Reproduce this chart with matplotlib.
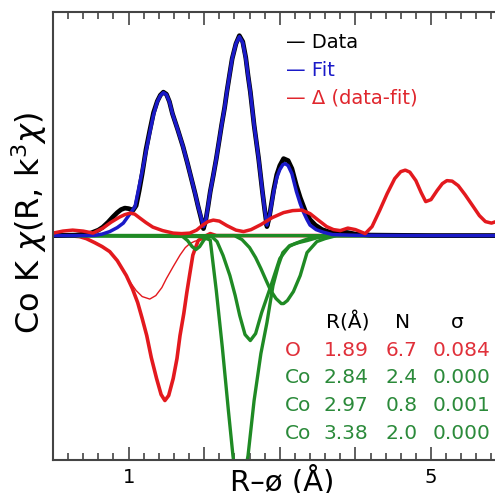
import matplotlib
matplotlib.use("Agg")
import matplotlib.pyplot as plt
from matplotlib.ticker import MultipleLocator

# ---- data (R in Angstrom, signal in arbitrary units) ----
data_r = [0, 0.3, 0.5, 0.6, 0.66, 0.73, 0.79, 0.85, 0.9, 0.95, 1.0, 1.06, 1.1, 1.14,
          1.18, 1.23, 1.28, 1.33, 1.38, 1.42, 1.46, 1.50, 1.54, 1.58, 1.65, 1.72,
          1.78, 1.835, 1.88, 1.92, 1.96, 1.99, 2.02, 2.05, 2.08, 2.12, 2.16, 2.2,
          2.23, 2.27, 2.30, 2.34, 2.37, 2.42, 2.465, 2.51, 2.55, 2.58, 2.61, 2.66,
          2.72, 2.77, 2.80, 2.83, 2.86, 2.89, 2.92, 2.96, 3.0, 3.05, 3.11, 3.16,
          3.22, 3.27, 3.34, 3.40, 3.47, 3.56, 3.66, 3.8, 3.9, 4.0, 4.2, 5.0, 6.0]
data_y = [0, 0.05, 0.25, 0.55, 0.85, 1.35, 1.85, 2.3, 2.6, 2.75, 2.7, 2.55, 3.0, 4.5,
          6.2, 8.6, 10.5, 12.3, 13.45, 14.05, 14.35, 14.15, 13.4, 12.2, 10.6, 8.9,
          7.2, 5.55, 4.2, 2.9, 1.7, 0.7, 1.5, 2.9, 4.4, 6.0, 7.7, 9.6,
          11.05, 12.8, 14.4, 16.3, 17.7, 19.2, 20.0, 19.4, 17.8, 16.0, 14.4, 11.05,
          7.7, 4.4, 2.6, 0.9, 1.8, 3.2, 4.6, 6.1, 7.0, 7.7, 7.5, 6.7,
          5.0, 3.8, 2.4, 1.6, 1.05, 0.6, 0.35, 0.4, 0.3, 0.15, 0.05, 0, 0]

fit_r = [0, 0.3, 0.55, 0.65, 0.75, 0.85, 0.93, 1.02, 1.085, 1.12, 1.16, 1.2, 1.23,
         1.28, 1.33, 1.38, 1.42, 1.46, 1.50, 1.54, 1.58, 1.65, 1.72, 1.78, 1.835,
         1.88, 1.92, 1.96, 1.99, 2.02, 2.05, 2.08, 2.12, 2.16, 2.2, 2.23, 2.27,
         2.30, 2.34, 2.37, 2.42, 2.465, 2.51, 2.55, 2.58, 2.61, 2.66, 2.72, 2.77,
         2.80, 2.83, 2.86, 2.89, 2.92, 2.96, 3.0, 3.04, 3.07, 3.11, 3.16, 3.22,
         3.27, 3.31, 3.36, 3.40, 3.48, 3.57, 3.7, 4.0, 5.0, 6.0]
fit_y = [0, 0, 0.02, 0.15, 0.4, 0.8, 1.25, 2.2, 2.9, 4.2, 5.7, 7.2, 8.4,
         10.3, 12.1, 13.4, 14.0, 14.3, 14.1, 13.4, 12.2, 10.6, 8.9, 7.2, 5.55,
         4.2, 2.9, 1.8, 0.9, 1.5, 2.9, 4.4, 6.0, 7.7, 9.6, 11.05, 12.8,
         14.4, 16.3, 17.7, 19.2, 19.9, 19.3, 17.7, 16.0, 14.4, 11.05, 7.7, 4.4,
         2.6, 1.05, 1.8, 3.1, 4.4, 5.8, 6.6, 7.1, 7.2, 7.0, 6.2, 4.4,
         3.2, 2.4, 1.6, 1.05, 0.6, 0.35, 0.1, 0.03, 0, 0]

diff_r = [0, 0.13, 0.26, 0.4, 0.53, 0.66, 0.77, 0.88, 0.95, 1.02, 1.08, 1.15, 1.23,
          1.32, 1.45, 1.59, 1.7, 1.81, 1.9, 1.98, 2.05, 2.12, 2.2, 2.3, 2.42, 2.52,
          2.62, 2.75, 2.9, 3.05, 3.17, 3.29, 3.4, 3.5, 3.62, 3.71, 3.8, 3.9, 4.0,
          4.13, 4.22, 4.32, 4.42, 4.52, 4.6, 4.66, 4.72, 4.8, 4.87, 4.93, 5.0, 5.08,
          5.15, 5.21, 5.28, 5.36, 5.45, 5.55, 5.64, 5.72, 5.8, 5.9, 6.0]
diff_y = [0.25, 0.45, 0.55, 0.45, 0.25, 0.75, 1.35, 1.85, 2.1, 2.25, 2.15, 1.75, 1.3,
          0.85, 0.5, 0.25, 0.2, 0.25, 0.55, 1.05, 1.4, 1.55, 1.45, 1.0, 0.55, 0.4,
          0.6, 1.1, 1.8, 2.3, 2.5, 2.55, 2.2, 1.6, 0.9, 0.6, 0.5, 0.75, 0.6,
          0.2, 0.9, 2.5, 4.2, 5.7, 6.4, 6.55, 6.35, 5.5, 4.3, 3.4, 3.6, 4.5,
          5.2, 5.5, 5.45, 5.0, 4.1, 3.0, 2.0, 1.4, 1.25, 1.5, 2.0]

o_r = [0, 0.2, 0.35, 0.44, 0.55, 0.65, 0.75, 0.85, 0.97, 1.05, 1.12, 1.18, 1.24,
       1.3, 1.37, 1.43, 1.48, 1.53, 1.59, 1.64, 1.68, 1.73, 1.77, 1.81, 1.85, 1.92,
       2.0, 2.08, 2.16, 2.3, 6.0]
o_y = [0, 0, -0.1, -0.3, -0.7, -1.1, -1.6, -2.5, -4.0, -5.3, -6.7, -8.3, -10.0,
       -12.2, -14.3, -15.9, -16.5, -16.0, -14.3, -12.3, -10.0, -7.8, -5.7, -3.8, -1.95, -0.5,
       -0.1, 0.2, 0, 0, 0]

o_thin_r = [0.85, 0.97, 1.02, 1.1, 1.18, 1.28, 1.36, 1.44, 1.5, 1.59, 1.68, 1.75,
            1.81, 1.88, 1.95, 2.05, 2.15]
o_thin_y = [-2.5, -4.0, -4.65, -5.5, -6.1, -6.35, -6.0, -5.2, -4.3, -3.1, -1.95, -1.2,
            -0.8, -0.55, -0.45, -0.2, 0]

co1_r = [0, 1.9, 2.0, 2.08, 2.16, 2.24, 2.32, 2.38, 2.43, 2.47, 2.51, 2.58, 2.66,
         2.75, 2.83, 2.91, 2.98, 3.04, 3.12, 3.2, 3.27, 3.4, 3.6, 6.0]
co1_y = [0, 0, -0.2, -0.45, -5.5, -11.2, -17.5, -22.0, -25.0, -26.0, -25.0, -22.0, -16.5,
         -11.8, -8.7, -5.0, -3.0, -1.7, -1.1, -0.8, -0.6, -0.25, 0, 0]

co2_r = [0, 2.1, 2.17, 2.25, 2.34, 2.41, 2.47, 2.54, 2.61, 2.68, 2.76, 2.87, 3.0,
         3.13, 3.25, 3.36, 3.5, 3.7, 6.0]
co2_y = [0, -0.1, -0.6, -2.0, -4.0, -6.0, -8.0, -9.9, -10.5, -9.8, -7.7, -5.3, -2.3,
         -1.0, -0.7, -0.5, -0.2, 0, 0]

co3_r = [0, 2.4, 2.5, 2.6, 2.68, 2.75, 2.82, 2.88, 2.95, 3.02, 3.05, 3.1, 3.18,
         3.27, 3.36, 3.49, 3.6, 3.75, 6.0]
co3_y = [0, 0, -0.4, -1.2, -2.2, -3.3, -4.5, -5.5, -6.3, -6.8, -6.8, -6.5, -5.6,
         -4.0, -1.7, -0.6, -0.3, 0, 0]

co4_r = [0, 1.7, 1.78, 1.84, 1.89, 1.94, 2.0, 2.08, 6.0]
co4_y = [0, 0, -0.5, -1.1, -1.4, -1.1, -0.4, 0, 0]

legend_labels = ["— Data", "— Fit", "— Δ (data-fit)"]
legend_colors = ["black", "#1a1ac8", "#e0262d"]

table_header = ["R(Å)", "N", "σ"]
shell_names = ["O", "Co", "Co", "Co"]
shell_r = ["1.89", "2.84", "2.97", "3.38"]
shell_n = ["6.7", "2.4", "0.8", "2.0"]
shell_sigma = ["0.084", "0.000", "0.001", "0.000"]
shell_colors = ["#e0303a", "#2b8a3a", "#2b8a3a", "#2b8a3a"]

red = "#e3191e"
blue = "#1a1ac8"
green = "#1f8a24"

W, H = 495, 493
fig = plt.figure(figsize=(W / 100, H / 100), dpi=100)
# axes runs past the right edge like the cropped original
ax = fig.add_axes([53 / W, 1 - 460 / H, 453.6 / W, 448.3 / H])

ax.plot(o_r, o_y, color=red, lw=2.6, solid_capstyle="round")
ax.plot(o_thin_r, o_thin_y, color=red, lw=1.0)
ax.plot(co4_r, co4_y, color=green, lw=2.4)
ax.plot(co1_r, co1_y, color=green, lw=2.4)
ax.plot(co2_r, co2_y, color=green, lw=2.4)
ax.plot(co3_r, co3_y, color=green, lw=2.4)
ax.plot(data_r, data_y, color="black", lw=3.4)
ax.plot(fit_r, fit_y, color=blue, lw=2.5)
ax.plot(diff_r, diff_y, color=red, lw=2.5)

ax.set_xlim(0, 6)
ax.set_ylim(-22.45, 22.4)
ax.set_yticks([])
ax.set_xticks(range(0, 7))
ax.set_xticklabels(["", "1", "", "", "", "5", ""])
ax.xaxis.set_minor_locator(MultipleLocator(0.2))
ax.tick_params(axis="x", which="both", direction="in", top=True, bottom=True,
               color="#444444", width=1.2, labelsize=14, pad=6)
ax.tick_params(axis="x", which="major", length=9.5)
ax.tick_params(axis="x", which="minor", length=5)
for side in ["left", "top", "bottom"]:
    ax.spines[side].set_color("#444444")
    ax.spines[side].set_linewidth(1.5)
ax.spines["right"].set_visible(False)

def px(x, y):
    return x / W, 1 - y / H

fig.text(*px(29, 223), r"Co K $\chi$(R, k$^3\chi$)", rotation=90,
         ha="center", va="center", fontsize=23)
fig.text(*px(230, 490), "R–ø (Å)", ha="left", va="baseline", fontsize=21)

for i, (lab, col) in enumerate(zip(legend_labels, legend_colors)):
    fig.text(*px(286, 43 + 27.5 * i), lab, color=col, fontsize=14,
             ha="left", va="center")

fig.text(*px(348, 322), table_header[0], fontsize=14.5, ha="center", va="center")
fig.text(*px(403, 322), table_header[1], fontsize=14.5, ha="center", va="center")
fig.text(*px(457, 322), table_header[2], fontsize=14.5, ha="center", va="center")
for i in range(len(shell_names)):
    y = 350 + 27.7 * i
    c = shell_colors[i]
    fig.text(*px(285, y), shell_names[i], color=c, fontsize=14.5, ha="left", va="center")
    fig.text(*px(346, y), shell_r[i], color=c, fontsize=14.5, ha="center", va="center")
    fig.text(*px(402, y), shell_n[i], color=c, fontsize=14.5, ha="center", va="center")
    fig.text(*px(433, y), shell_sigma[i], color=c, fontsize=14.5, ha="left", va="center")

fig.savefig("out.png", dpi=100)
